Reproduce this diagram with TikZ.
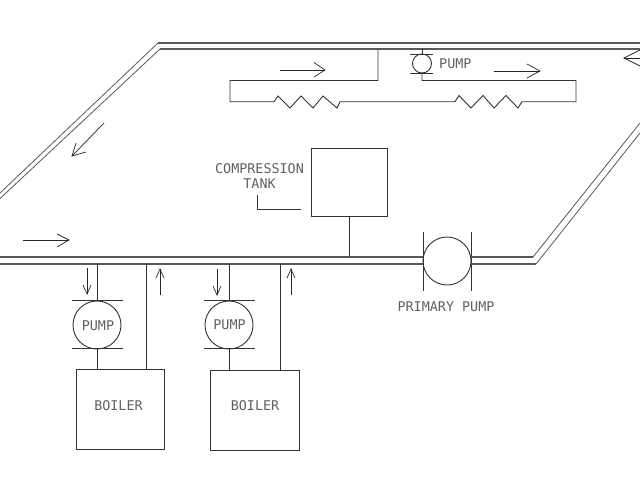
\documentclass[tikz,border=0pt]{standalone}
\usepackage{fontspec}
\setmainfont{Liberation Sans}
\newfontfamily\cadfont{DejaVu Sans Mono}
\newcommand{\flowarrow}[5]{%
  \coordinate (#1tail) at #2; \coordinate (#1tip) at #3;
  \coordinate (#1h) at #4; \coordinate (#1k) at #5;
  \draw[flow] (#1tail) -- (#1tip);
  \draw[flow] (#1h) -- (#1tip) -- (#1k);}
\begin{document}
\begin{tikzpicture}[x=1pt,y=-1pt,
  pipe/.style={draw=black!65,line width=1.1pt},
  diag/.style={draw=black!65,line width=0.8pt},
  thin pipe/.style={draw=black!80,line width=0.9pt},
  box/.style={draw=black!80,line width=0.9pt,fill=white,minimum width=0pt,inner sep=0pt},
  flow/.style={draw=black!85,line width=0.7pt},
  lab/.style={font=\cadfont\fontsize{13.4}{15}\selectfont,text=black!62,inner sep=0pt,align=center}]
\useasboundingbox (0,0) rectangle (640,480);
\fill[white] (0,0) rectangle (640,480);
% main loop
\coordinate (tl1) at (158,43); \coordinate (tl2) at (160,49);
\coordinate (tr1) at (640,43); \coordinate (tr2) at (640,49);
\coordinate (dl1) at (0,193); \coordinate (dl2) at (0,198.5);
\coordinate (bl1) at (0,257); \coordinate (bl2) at (0,264);
\coordinate (br1) at (533,257); \coordinate (br2) at (536,264);
\coordinate (rd1) at (640,123); \coordinate (rd2) at (640,133);
% primary pump
\node[circle,box,minimum size=48pt] (pp) at (447,261) {};
\coordinate (ppa) at (423,232); \coordinate (ppb) at (423,291);
\coordinate (ppc) at (471,232); \coordinate (ppd) at (471,291);
\draw[thin pipe] (ppa) -- (ppb) (ppc) -- (ppd);
\draw[diag] (dl1) -- (tl1); \draw[diag] (dl2) -- (tl2);
\draw[pipe] (tl1) -- (tr1); \draw[pipe] (tl2) -- (tr2);
\draw[pipe] (bl1) -- (ppa|-bl1);
\draw[pipe] (bl2) -- (ppa|-bl2);
\draw[pipe] (ppc|-br1) -- (br1); \draw[diag] (br1) -- (rd1);
\draw[pipe] (ppc|-br2) -- (br2); \draw[diag] (br2) -- (rd2);
% compression tank
\node[box,minimum width=76pt,minimum height=68pt] (tank) at (349.5,182) {};
\coordinate (tj) at (tank.south|-bl1);
\draw[thin pipe] (tank.south) -- (tj);
\node[lab] (ct) at (259.5,176.5) {COMPRESSION\\TANK};
\coordinate (ld1) at (257,195); \coordinate (ld2) at (257,209); \coordinate (ld3) at (301,209);
\draw[thin pipe,line width=0.7pt] (ld1) -- (ld2) -- (ld3);
% secondary circuit
\node[circle,box,minimum size=19pt] (sp) at (422,63.5) {};
\coordinate (spa) at (410,54.5); \coordinate (spb) at (433,54.5);
\coordinate (spc) at (410,73); \coordinate (spd) at (433,73);
\draw[thin pipe] (spa) -- (spb) (spc) -- (spd);
\node[lab,anchor=west] (spl) at (439,63.5) {PUMP};
\coordinate (st) at (422,49); \coordinate (rt) at (378,49);
\coordinate (c1) at (378,80.5); \coordinate (c2) at (230,80.5); \coordinate (c3) at (230,101.7);
\coordinate (c4) at (576,101.7); \coordinate (c5) at (576,80.5); \coordinate (c6) at (422,80.5);
\draw[thin pipe] (rt) -- (c1) -- (c2) -- (c3) -- (274,101.7)
  -- (278,96) -- (290,108) -- (301,96) -- (313,108) -- (323,96) -- (337,108) -- (340,101.7)
  -- (455,101.7)
  -- (459,95.5) -- (471,108) -- (483,95.5) -- (494,108) -- (506,95.5) -- (518,108) -- (522,101.7)
  -- (c4) -- (c5) -- (c6) -- (sp.south);
\draw[thin pipe] (st) -- (sp.north);
% boilers
\node[box,minimum width=88pt,minimum height=79.5pt] (b1) at (120,409.5) {};
\node[box,minimum width=89pt,minimum height=80pt] (b2) at (254.5,410) {};
\node[lab] (b1l) at (118.5,406) {BOILER};
\node[lab] (b2l) at (255,406) {BOILER};
\node[circle,box,minimum size=48pt] (p1) at (97,325) {};
\node[circle,box,minimum size=48pt] (p2) at (229,325) {};
\node[lab] (p1l) at (98,326) {PUMP};
\node[lab] (p2l) at (229.5,325) {PUMP};
\draw[thin pipe] (72,300.5) -- (123,300.5) (72,348.5) -- (123,348.5);
\draw[thin pipe] (204,300.5) -- (255,300.5) (204,348.5) -- (255,348.5);
\coordinate (j1) at (97,264); \coordinate (j2) at (229,264);
\coordinate (j3) at (146.5,264); \coordinate (j4) at (280.5,264);
\draw[thin pipe] (j1) -- (p1.north);
\draw[thin pipe] (p1.south) -- (p1.south|-b1.north);
\draw[thin pipe] (j2) -- (p2.north);
\draw[thin pipe] (p2.south) -- (p2.south|-b2.north);
\draw[thin pipe] (j3) -- (j3|-b1.north);
\draw[thin pipe] (j4) -- (j4|-b2.north);
\node[lab] (pl) at (446,306.5) {PRIMARY PUMP};
% flow arrows
\flowarrow{fa}{(280,70)}{(325,70)}{(314,62.5)}{(314,77)}
\flowarrow{fb}{(494,71)}{(540,71)}{(527,64)}{(527,78)}
\flowarrow{fc}{(640,58)}{(624,58)}{(640,50)}{(640,66)}
\flowarrow{fd}{(104,123)}{(72,156)}{(76,143)}{(86,152)}
\flowarrow{fe}{(23,240)}{(69,240)}{(57,234)}{(57,247)}
\flowarrow{ff}{(87,268)}{(87,294)}{(83,285)}{(91,285)}
\flowarrow{fg}{(160,295)}{(160,269)}{(156,278)}{(164,278)}
\flowarrow{fh}{(217,269)}{(217,295)}{(213,286)}{(221,286)}
\flowarrow{fi}{(291,295)}{(291,269)}{(287,278)}{(295,278)}
\end{tikzpicture}
\end{document}
